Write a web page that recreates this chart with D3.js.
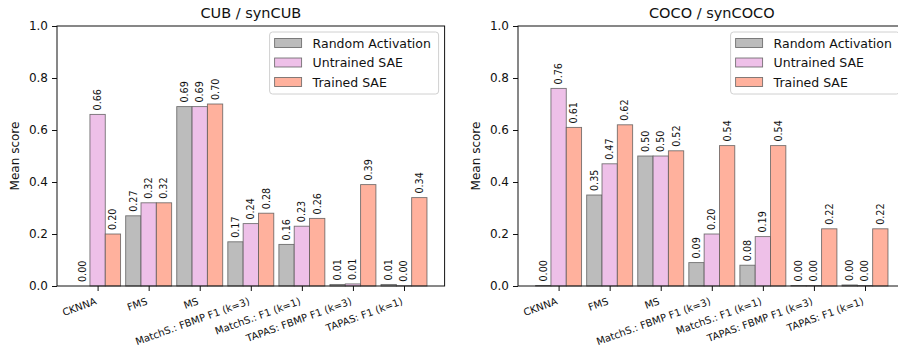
<!DOCTYPE html>
<html>
<head>
<meta charset="utf-8">
<script src="https://cdn.jsdelivr.net/npm/d3@7"></script>
<style>
  body { margin: 0; background: #fff; }
  svg { display: block; font-family: "DejaVu Sans", sans-serif; }
</style>
</head>
<body>
<div id="container"></div>
<script>
// categories + series
const metrics = ["CKNNA", "FMS", "MS", "MatchS.: FBMP F1 (k=3)", "MatchS.: F1 (k=1)", "TAPAS: FBMP F1 (k=3)", "TAPAS: F1 (k=1)"];
const seriesNames = ["Random Activation", "Untrained SAE", "Trained SAE"];
const seriesColors = ["#bcbcbc", "#eec0e8", "#ffb19d"];
const yTicks = [0.0, 0.2, 0.4, 0.6, 0.8, 1.0];

const cubRandom = [0.0, 0.27, 0.69, 0.17, 0.16, 0.006, 0.006];
const cubUntrained = [0.66, 0.32, 0.69, 0.24, 0.23, 0.008, 0.001];
const cubTrained = [0.20, 0.32, 0.70, 0.28, 0.26, 0.39, 0.34];

const cocoRandom = [0.002, 0.35, 0.50, 0.09, 0.08, 0.002, 0.004];
const cocoUntrained = [0.76, 0.47, 0.50, 0.20, 0.19, 0.002, 0.002];
const cocoTrained = [0.61, 0.62, 0.52, 0.54, 0.54, 0.22, 0.22];

const W = 898, H = 346;
const plotTop = 26, plotBottom = 286;
const fmt = d3.format(".2f");

const svg = d3.select("#container")
    .append("svg")
    .attr("width", W)
    .attr("height", H);

function drawPanel(title, left, right, series) {
    let x = d3.scaleLinear().domain([-0.795, 6.795]).range([left, right]);
    let y = d3.scaleLinear().domain([0, 1]).range([plotBottom, plotTop]);
    let bw = x(0.3) - x(0);

    let g = svg.append("g");

    // bars
    series.forEach((vals, k) => {
        g.selectAll(null)
            .data(vals)
            .enter()
            .append("rect")
            .attr("x", (d, i) => x(i + (k - 1) * 0.3) - bw / 2)
            .attr("y", d => y(d))
            .attr("width", bw)
            .attr("height", d => y(0) - y(d))
            .attr("fill", seriesColors[k])
            .attr("stroke", "#555")
            .attr("stroke-opacity", 0.8)
            .attr("stroke-width", 0.9);

        // value labels
        g.selectAll(null)
            .data(vals)
            .enter()
            .append("text")
            .attr("transform", (d, i) => `translate(${x(i + (k - 1) * 0.3)},${y(d) - 4}) rotate(-90)`)
            .attr("dy", "0.36em")
            .attr("font-size", 9.6)
            .attr("fill", "#111")
            .text(d => fmt(d));
    });

    // frame
    g.append("rect")
        .attr("x", left)
        .attr("y", plotTop)
        .attr("width", right - left)
        .attr("height", plotBottom - plotTop)
        .attr("fill", "none")
        .attr("stroke", "#111")
        .attr("stroke-width", 1);

    // y axis
    let yAxis = g.append("g")
        .attr("transform", `translate(${left},0)`)
        .call(d3.axisLeft(y).tickValues(yTicks).tickFormat(d3.format(".1f")).tickSize(5).tickPadding(4));
    yAxis.select(".domain").remove();
    yAxis.selectAll("text").attr("font-size", 12).attr("fill", "#111").attr("font-family", "DejaVu Sans");
    yAxis.selectAll("line").attr("stroke", "#111");

    // x axis
    let xAxis = g.append("g")
        .attr("transform", `translate(0,${plotBottom})`)
        .call(d3.axisBottom(x).tickValues(d3.range(metrics.length)).tickFormat(i => metrics[i]).tickSize(5));
    xAxis.select(".domain").remove();
    xAxis.selectAll("line").attr("stroke", "#111");
    xAxis.selectAll("text")
        .attr("font-size", 10)
        .attr("font-family", "DejaVu Sans")
        .attr("fill", "#111")
        .attr("text-anchor", "end")
        .attr("y", 0)
        .attr("dy", 0)
        .attr("transform", "translate(-1,18) rotate(-20)");

    // title
    g.append("text")
        .attr("x", (left + right) / 2)
        .attr("y", 18)
        .attr("text-anchor", "middle")
        .attr("font-size", 14.5)
        .attr("fill", "#111")
        .text(title);

    // y label
    g.append("text")
        .attr("transform", `translate(${left - 38},${(plotTop + plotBottom) / 2}) rotate(-90)`)
        .attr("text-anchor", "middle")
        .attr("font-size", 12)
        .attr("fill", "#111")
        .text("Mean score");

    // legend
    let lx = right - 6 - 169;
    let leg = g.append("g").attr("transform", `translate(${lx},32)`);
    leg.append("rect")
        .attr("width", 169)
        .attr("height", 62)
        .attr("rx", 3)
        .attr("fill", "#fff")
        .attr("fill-opacity", 0.8)
        .attr("stroke", "#d0d0d0");
    seriesNames.forEach((name, k) => {
        let row = leg.append("g").attr("transform", `translate(5,${11 + k * 19.5})`);
        row.append("rect")
            .attr("y", -4.5)
            .attr("width", 27)
            .attr("height", 9)
            .attr("fill", seriesColors[k])
            .attr("stroke", "#555")
            .attr("stroke-opacity", 0.8)
            .attr("stroke-width", 0.9);
        row.append("text")
            .attr("x", 38)
            .attr("dy", "0.36em")
            .attr("font-size", 12.5)
            .attr("fill", "#111")
            .text(name);
    });
}

drawPanel("CUB / synCUB", 57, 444.6, [cubRandom, cubUntrained, cubTrained]);
drawPanel("COCO / synCOCO", 518, 905.6, [cocoRandom, cocoUntrained, cocoTrained]);
</script>
</body>
</html>
